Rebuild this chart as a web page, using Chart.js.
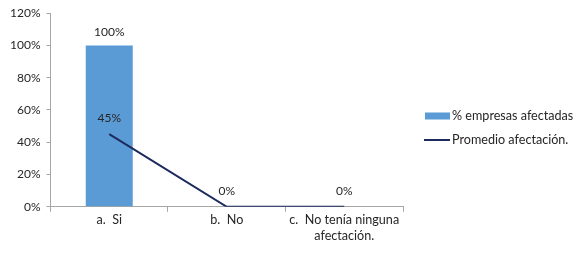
<!DOCTYPE html>
<html>
<head>
<meta charset="utf-8">
<script src="https://cdn.jsdelivr.net/npm/chart.js@4"></script>
<style>
  html, body { margin: 0; padding: 0; background: #fff; }
  #wrap { width: 586px; height: 256px; }
</style>
</head>
<body>
<div id="wrap"><canvas id="chart" width="586" height="256"></canvas></div>
<script>
// datos
const categorias = [['a.  Si'], ['b.  No'], ['c.  No tenía ninguna', 'afectación.']];
const empresasAfectadas = [1.00, 0, 0];
const promedioAfectacion = [0.45, 0, 0];
const etiquetasEje = ['0%', '20%', '40%', '60%', '80%', '100%', '120%'];

const FUENTE = "Lato, 'Open Sans', sans-serif";
const GRIS = '#a6a6a6';
const TEXTO = '#262626';

// etiquetas de valor encima de barras y puntos
const etiquetasValor = {
    id: 'etiquetasValor',
    afterDatasetsDraw(chart) {
        const ctx = chart.ctx;
        ctx.save();
        ctx.font = '12px ' + FUENTE;
        ctx.fillStyle = TEXTO;
        ctx.textAlign = 'center';
        ctx.textBaseline = 'middle';
        chart.data.datasets.forEach((ds, i) => {
            const meta = chart.getDatasetMeta(i);
            meta.data.forEach((el, j) => {
                const v = ds.data[j];
                if (ds.type === 'bar' && v === 0) return; // se solapa con la línea
                const off = ds.type === 'bar' ? 13 : 16;
                ctx.fillText(Math.round(v * 100) + '%', el.x, el.y - off);
            });
        });
        ctx.restore();
    }
};

// leyenda a la derecha (la de Chart.js recortaba el texto)
const leyenda = {
    id: 'leyenda',
    afterDraw(chart) {
        const ctx = chart.ctx;
        ctx.save();
        ctx.font = '12.6px ' + FUENTE;
        ctx.textBaseline = 'middle';
        ctx.textAlign = 'left';
        const x0 = 424, y0 = 116, paso = 24;
        chart.data.datasets.forEach((ds, i) => {
            const y = y0 + i * paso;
            if (ds.type === 'bar') {
                ctx.fillStyle = ds.backgroundColor;
                ctx.fillRect(x0 + 1, y - 3.5, 25, 7);
            } else {
                ctx.strokeStyle = ds.borderColor;
                ctx.lineWidth = 2;
                ctx.beginPath();
                ctx.moveTo(x0, y);
                ctx.lineTo(x0 + 26, y);
                ctx.stroke();
            }
            ctx.fillStyle = TEXTO;
            ctx.fillText(ds.label, x0 + 28, y);
        });
        ctx.restore();
    }
};

new Chart(document.getElementById('chart'), {
    data: {
        labels: categorias,
        datasets: [
            {
                type: 'bar',
                label: '% empresas afectadas',
                data: empresasAfectadas,
                backgroundColor: '#5b9bd5',
                categoryPercentage: 1,
                barPercentage: 0.4,
                order: 2
            },
            {
                type: 'line',
                label: 'Promedio afectación.',
                data: promedioAfectacion,
                borderColor: '#1c2a5e',
                backgroundColor: '#1c2a5e',
                borderWidth: 2,
                pointRadius: 0,
                tension: 0,
                order: 1
            }
        ]
    },
    plugins: [etiquetasValor, leyenda],
    options: {
        responsive: false,
        animation: false,
        layout: { padding: { top: 8, left: 4, right: 183, bottom: 12 } },
        plugins: {
            tooltip: { enabled: false },
            legend: { display: false }
        },
        scales: {
            x: {
                offset: true,
                border: { color: GRIS },
                grid: { display: true, drawOnChartArea: false, offset: true, tickLength: 5, color: GRIS },
                ticks: { color: TEXTO, font: { family: FUENTE, size: 12.6, lineHeight: 1.2 }, maxRotation: 0, padding: 1 }
            },
            y: {
                min: 0,
                max: 1.2,
                border: { color: GRIS },
                grid: { display: true, drawOnChartArea: false, tickLength: 4, color: GRIS },
                ticks: {
                    stepSize: 0.2,
                    color: TEXTO,
                    font: { family: FUENTE, size: 12 },
                    padding: 6,
                    callback: (v, i) => etiquetasEje[i]
                }
            }
        }
    }
});
</script>
</body>
</html>
